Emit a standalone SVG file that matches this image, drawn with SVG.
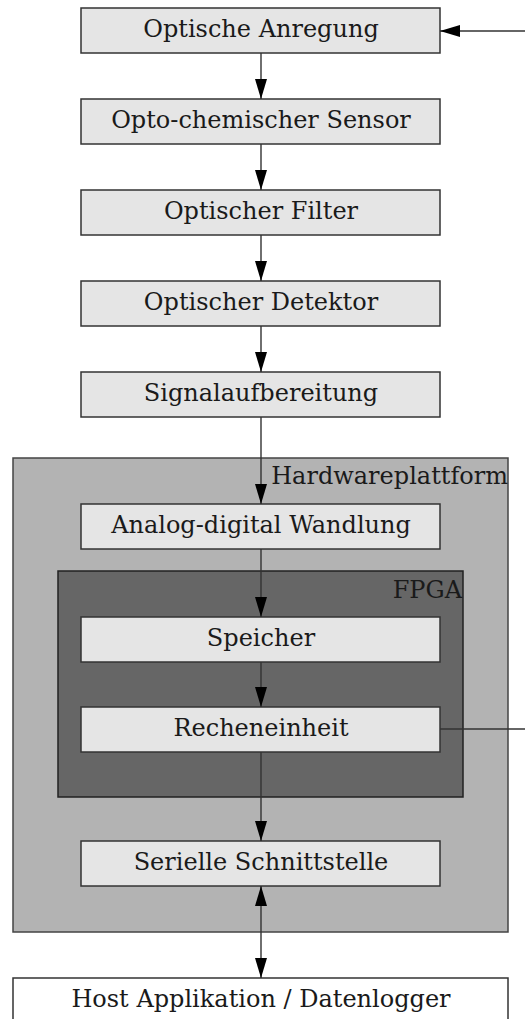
<svg xmlns="http://www.w3.org/2000/svg" width="525" height="1019" viewBox="0 0 525 1019">
  <style>
    .box { fill: #e5e5e5; stroke: #333333; stroke-width: 1.5; }
    .host { fill: #ffffff; stroke: #333333; stroke-width: 1.5; }
    .hw { fill: #b3b3b3; stroke: #444444; stroke-width: 1.5; }
    .fpga { fill: #666666; stroke: #222222; stroke-width: 1.5; }
    .lbl { font-family: "DejaVu Serif", "Liberation Serif", serif; font-size: 24px; fill: #1a1a1a; text-anchor: middle; }
    .grp { font-family: "DejaVu Serif", "Liberation Serif", serif; font-size: 24px; fill: #1a1a1a; text-anchor: end; }
    .edge { stroke: #333333; stroke-width: 1.4; fill: none; }
  </style>
  <defs>
    <marker id="head" viewBox="0 0 20 12" markerWidth="20" markerHeight="12" refX="20" refY="6" orient="auto-start-reverse" markerUnits="userSpaceOnUse">
      <polygon points="0,0 20,6 0,12" fill="#000000"/>
    </marker>
  </defs>

  <!-- containers -->
  <g id="hardwareplattform">
    <rect class="hw" x="13" y="458" width="495" height="474"/>
    <text class="grp" x="508" y="484">Hardwareplattform</text>
  </g>
  <g id="fpga">
    <rect class="fpga" x="58" y="571" width="405" height="226"/>
    <text class="grp" x="462" y="598">FPGA</text>
  </g>

  <!-- processing chain -->
  <g id="optische-anregung">
    <rect class="box" x="81" y="8" width="359" height="45"/>
    <text class="lbl" x="261" y="37">Optische Anregung</text>
  </g>
  <g id="sensor">
    <rect class="box" x="81" y="99" width="359" height="45"/>
    <text class="lbl" x="261" y="128">Opto-chemischer Sensor</text>
  </g>
  <g id="filter">
    <rect class="box" x="81" y="190" width="359" height="45"/>
    <text class="lbl" x="261" y="219">Optischer Filter</text>
  </g>
  <g id="detektor">
    <rect class="box" x="81" y="281" width="359" height="45"/>
    <text class="lbl" x="261" y="310">Optischer Detektor</text>
  </g>
  <g id="signalaufbereitung">
    <rect class="box" x="81" y="372" width="359" height="45"/>
    <text class="lbl" x="261" y="401">Signalaufbereitung</text>
  </g>
  <g id="adc">
    <rect class="box" x="81" y="504" width="359" height="45"/>
    <text class="lbl" x="261" y="533">Analog-digital Wandlung</text>
  </g>
  <g id="speicher">
    <rect class="box" x="81" y="617" width="359" height="45"/>
    <text class="lbl" x="261" y="646">Speicher</text>
  </g>
  <g id="recheneinheit">
    <rect class="box" x="81" y="707" width="359" height="45"/>
    <text class="lbl" x="261" y="736">Recheneinheit</text>
  </g>
  <g id="seriell">
    <rect class="box" x="81" y="841" width="359" height="45"/>
    <text class="lbl" x="261" y="870">Serielle Schnittstelle</text>
  </g>
  <g id="host">
    <rect class="host" x="13" y="978" width="495" height="60"/>
    <text class="lbl" x="261" y="1007">Host Applikation / Datenlogger</text>
  </g>

  <!-- connectors -->
  <g id="connectors">
    <line class="edge" x1="261" y1="53" x2="261" y2="99" marker-end="url(#head)"/>
    <line class="edge" x1="261" y1="144" x2="261" y2="190" marker-end="url(#head)"/>
    <line class="edge" x1="261" y1="235" x2="261" y2="281" marker-end="url(#head)"/>
    <line class="edge" x1="261" y1="326" x2="261" y2="372" marker-end="url(#head)"/>
    <line class="edge" x1="261" y1="417" x2="261" y2="504" marker-end="url(#head)"/>
    <line class="edge" x1="261" y1="549" x2="261" y2="617" marker-end="url(#head)"/>
    <line class="edge" x1="261" y1="662" x2="261" y2="707" marker-end="url(#head)"/>
    <line class="edge" x1="261" y1="752" x2="261" y2="841" marker-end="url(#head)"/>
    <line class="edge" x1="261" y1="886" x2="261" y2="978" marker-start="url(#head)" marker-end="url(#head)"/>
    <!-- feedback from the computing unit back to the excitation -->
    <line class="edge" x1="440" y1="729" x2="525" y2="729"/>
    <line class="edge" x1="525" y1="31" x2="440" y2="31" marker-end="url(#head)"/>
  </g>
</svg>
